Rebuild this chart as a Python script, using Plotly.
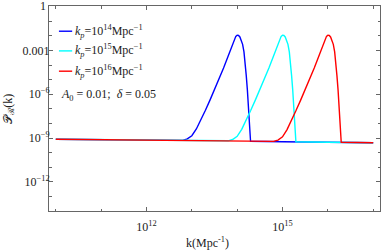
import plotly.graph_objects as go

# log10(k [Mpc^-1]) and log10(P_R)
logk_14 = [10.0, 11.0, 12.0, 12.6, 12.7, 12.8, 12.9, 13.0, 13.1, 13.2, 13.3, 13.4, 13.5, 13.6, 13.7,
           13.8, 13.85, 13.9, 13.94, 13.97, 14.0, 14.03, 14.06, 14.09, 14.12, 14.15, 14.175, 14.2,
           14.225, 14.25, 14.27, 14.285, 14.295, 15.0, 16.0, 17.0]
logP_14 = [-9.08, -9.11, -9.15, -9.17, -9.17, -9.16, -9.06, -8.84, -8.38, -7.78, -7.1, -6.4, -5.7, -4.95, -4.2,
           -3.4, -3.0, -2.6, -2.25, -2.03, -1.95, -1.97, -2.07, -2.27, -2.58, -3.1, -3.8, -4.7,
           -5.7, -6.9, -8.1, -9.0, -9.22, -9.25, -9.29, -9.32]

logk_15 = [10.0, 11.0, 12.0, 13.0, 13.6, 13.7, 13.8, 13.9, 14.0, 14.1, 14.2, 14.3, 14.4, 14.5, 14.6, 14.7,
           14.8, 14.85, 14.9, 14.94, 14.97, 15.0, 15.03, 15.06, 15.09, 15.12, 15.15, 15.175, 15.2,
           15.225, 15.25, 15.27, 15.285, 15.295, 16.0, 17.0]
logP_15 = [-9.08, -9.11, -9.15, -9.18, -9.2, -9.2, -9.19, -9.1, -8.88, -8.4, -7.78, -7.1, -6.4, -5.7, -4.95, -4.2,
           -3.4, -3.0, -2.6, -2.25, -2.03, -1.95, -1.97, -2.07, -2.27, -2.58, -3.1, -3.8, -4.7,
           -5.7, -6.9, -8.1, -9.0, -9.25, -9.29, -9.32]

logk_16 = [10.0, 11.0, 12.0, 13.0, 14.0, 14.6, 14.7, 14.8, 14.9, 15.0, 15.1, 15.2, 15.3, 15.4, 15.5, 15.6, 15.7,
           15.8, 15.85, 15.9, 15.94, 15.97, 16.0, 16.03, 16.06, 16.09, 16.12, 16.15, 16.175, 16.2,
           16.225, 16.25, 16.27, 16.285, 16.295, 17.0]
logP_16 = [-9.08, -9.11, -9.15, -9.18, -9.22, -9.24, -9.24, -9.23, -9.14, -8.92, -8.42, -7.79, -7.1, -6.4, -5.7, -4.95, -4.2,
           -3.4, -3.0, -2.6, -2.25, -2.03, -1.95, -1.97, -2.07, -2.27, -2.58, -3.1, -3.8, -4.7,
           -5.7, -6.9, -8.1, -9.0, -9.29, -9.32]

series_names = ["k<sub>p</sub>=10<sup>14</sup>Mpc<sup>-1</sup>",
                "k<sub>p</sub>=10<sup>15</sup>Mpc<sup>-1</sup>",
                "k<sub>p</sub>=10<sup>16</sup>Mpc<sup>-1</sup>"]
legend_labels = ["<i>k</i><sub><i>p</i></sub>=10<sup>14</sup>Mpc<sup>\u22121</sup>",
                 "<i>k</i><sub><i>p</i></sub>=10<sup>15</sup>Mpc<sup>\u22121</sup>",
                 "<i>k</i><sub><i>p</i></sub>=10<sup>16</sup>Mpc<sup>\u22121</sup>"]
colors = ["#0000ff", "#00ffff", "#ff0000"]

x_major = [12, 15]
x_minor = [10, 11, 13, 14, 16, 17]
y_major = [-12, -9, -6, -3, 0]
y_major_text = ["10<sup>\u221212</sup>", "10<sup>\u22129</sup>", "10<sup>\u22126</sup>", "0.001", " "]
y_minor = [-14, -13, -11, -10, -8, -7, -5, -4, -2, -1]

FONT = "Liberation Serif"
TXT = "#222222"

fig = go.Figure()
for lk, lp, nm, c in zip([logk_14, logk_15, logk_16], [logP_14, logP_15, logP_16], series_names, colors):
    fig.add_trace(go.Scatter(x=[10 ** v for v in lk], y=[10 ** v for v in lp], mode="lines",
                             name=nm, line=dict(color=c, width=1.4), showlegend=False))

axis_common = dict(type="log", showgrid=False, zeroline=False, showline=True, linecolor="#666666",
                   linewidth=1, mirror="allticks", ticks="inside", tickcolor="#666666", automargin=False,
                   tickfont=dict(family=FONT, size=12, color=TXT))

fig.update_layout(
    width=384, height=251,
    margin=dict(l=49, r=4, t=6, b=40),
    paper_bgcolor="white", plot_bgcolor="white",
    font=dict(family=FONT, size=12, color=TXT),
    xaxis=dict(**axis_common, range=[9.85, 17.15], tickmode="array",
               tickvals=[10 ** v for v in x_major],
               ticktext=["10<sup>%d</sup>" % v for v in x_major], ticklen=4, ticklabelstandoff=5,
               minor=dict(tickmode="array", tickvals=[10 ** v for v in x_minor], ticklen=2.5,
                          tickcolor="#666666", ticks="inside", showgrid=False)),
    yaxis=dict(**axis_common, range=[-14.0, 0.05], tickmode="array",
               tickvals=[10 ** v for v in y_major], ticktext=y_major_text, ticklen=4, ticklabelstandoff=-4,
               minor=dict(tickmode="array", tickvals=[10 ** v for v in y_minor], ticklen=2.5,
                          tickcolor="#666666", ticks="inside", showgrid=False)),
)

# "1" tick label at the top, axis titles
fig.add_annotation(xref="paper", yref="paper", x=-0.003, y=1.0, text="1", showarrow=False,
                   xanchor="right", yanchor="middle", font=dict(family=FONT, size=12, color=TXT))
fig.add_annotation(xref="paper", yref="paper", x=0.48, y=-0.155, text="k(Mpc<sup>-1</sup>)",
                   showarrow=False, xanchor="center", yanchor="middle", font=dict(family=FONT, size=12, color=TXT))
fig.add_annotation(xref="paper", yref="paper", x=-0.123, y=0.5, text="\U0001D4AB<sub>\u211B</sub>(k)",
                   textangle=-90, showarrow=False, xanchor="center", yanchor="middle",
                   font=dict(family=FONT, size=12, color=TXT))

# manual legend (short line samples like the reference)
leg_y = [0.877, 0.781, 0.682]
for yy, lab, c in zip(leg_y, legend_labels, colors):
    fig.add_shape(type="line", xref="paper", yref="paper", x0=0.03, x1=0.07, y0=yy, y1=yy,
                  line=dict(color=c, width=1.4))
    fig.add_annotation(xref="paper", yref="paper", x=0.074, y=yy, text=lab, showarrow=False,
                       xanchor="left", yanchor="middle", font=dict(family=FONT, size=12, color=TXT))
fig.add_annotation(xref="paper", yref="paper", x=0.03, y=0.565,
                   text="<i>A</i><sub>0</sub> = 0.01;  <i>\u03b4</i> = 0.05", showarrow=False,
                   xanchor="left", yanchor="middle", font=dict(family=FONT, size=12, color=TXT))

fig.write_html("out.html", config={"displayModeBar": False},
               post_script="document.body.style.margin='0';document.body.style.overflow='hidden';")
